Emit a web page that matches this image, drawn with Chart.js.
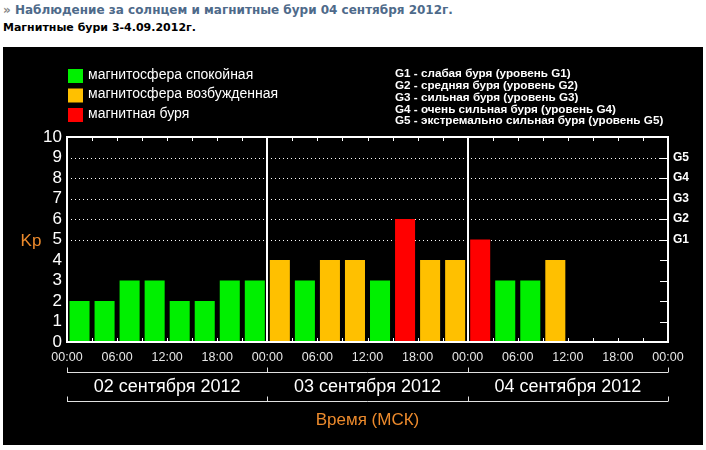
<!DOCTYPE html>
<html>
<head>
<meta charset="utf-8">
<script src="https://cdn.jsdelivr.net/npm/chart.js@4"></script>
<style>
  html, body { margin: 0; padding: 0; background: #fff; width: 706px; height: 450px; overflow: hidden; }
  #h1 { position: absolute; left: 3px; top: 3px; font: bold 12px "DejaVu Sans"; color: #4e6a8a; white-space: nowrap; }
  #h1 span { color: #888; }
  #h2 { position: absolute; left: 3px; top: 21px; font: bold 11px "DejaVu Sans"; color: #000; white-space: nowrap; }
  #wrap { position: absolute; left: 3px; top: 47px; width: 700px; height: 398px; background: #000; }
</style>
</head>
<body>
<div id="h1"><span>»</span> Наблюдение за солнцем и магнитные бури 04 сентября 2012г.</div>
<div id="h2">Магнитные бури 3-4.09.2012г.</div>
<div id="wrap"><canvas id="kp" width="700" height="398"></canvas></div>
<script>
// 3-hour slots, 02.09 00:00 .. 04.09 21:00
const slots = [
  "02 00", "02 03", "02 06", "02 09", "02 12", "02 15", "02 18", "02 21",
  "03 00", "03 03", "03 06", "03 09", "03 12", "03 15", "03 18", "03 21",
  "04 00", "04 03", "04 06", "04 09", "04 12", "04 15", "04 18", "04 21",
];
const kp = [
  2, 2, 3, 3, 2, 2, 3, 3,
  4, 3, 4, 4, 3, 6, 4, 4,
  5, 3, 3, 4, null, null, null, null,
];
const days = ["02 сентября 2012", "03 сентября 2012", "04 сентября 2012"];
const dayMid = [12, 36, 60];
const gLevels = ["G1", "G2", "G3", "G4", "G5"]; // Kp 5..9
const legendText = ["магнитосфера спокойная", "магнитосфера возбужденная", "магнитная буря"];
const legendColors = ["#00f000", "#ffc000", "#ff0000"];
const gNotes = [
  "G1 - слабая буря (уровень G1)",
  "G2 - средняя буря (уровень G2)",
  "G3 - сильная буря (уровень G3)",
  "G4 - очень сильная буря (уровень G4)",
  "G5 - экстремально сильная буря (уровень G5)",
];

const orange = "#ec8a2c";
Chart.defaults.font.family = "Liberation Sans";

function levelColor(v) {
  if (v >= 5) return legendColors[2];
  if (v >= 4) return legendColors[1];
  return legendColors[0];
}

function hh(v) {
  return String(v % 24).padStart(2, "0") + ":00";
}

const framePlugin = {
  id: "frame",
  beforeDraw(chart) {
    const ctx = chart.ctx;
    ctx.save();
    ctx.fillStyle = "#000";
    ctx.fillRect(0, 0, chart.width, chart.height);
    ctx.restore();
  },
  beforeDatasetsDraw(chart) {
    const { ctx, chartArea: a, scales: { y } } = chart;
    ctx.save();
    ctx.strokeStyle = "#fff";
    ctx.lineWidth = 1;
    ctx.setLineDash([1, 3]);
    for (let v = 5; v <= 9; v++) {
      const py = Math.round(y.getPixelForValue(v)) + 0.5;
      ctx.beginPath();
      ctx.moveTo(a.left + 4, py);
      ctx.lineTo(a.right - 8, py);
      ctx.stroke();
    }
    ctx.restore();
  },
  afterDatasetsDraw(chart) {
    const { ctx, chartArea: a, scales: { y, xTime } } = chart;
    ctx.save();
    ctx.strokeStyle = "#fff";
    ctx.lineWidth = 2;
    ctx.strokeRect(a.left, a.top, a.right - a.left, a.bottom - a.top);

    // day separators
    [24, 48].forEach((h) => {
      const px = Math.round(xTime.getPixelForValue(h));
      ctx.beginPath();
      ctx.moveTo(px, a.top);
      ctx.lineTo(px, a.bottom);
      ctx.stroke();
    });

    // small ticks on top / bottom every 3 hours
    ctx.lineWidth = 1;
    for (let h = 3; h < 72; h += 3) {
      const px = Math.round(xTime.getPixelForValue(h)) + 0.5;
      ctx.beginPath();
      ctx.moveTo(px, a.top);
      ctx.lineTo(px, a.top + 4);
      ctx.moveTo(px, a.bottom);
      ctx.lineTo(px, a.bottom - 4);
      ctx.stroke();
    }
    // ticks on the right axis
    for (let v = 1; v <= 9; v++) {
      const py = Math.round(y.getPixelForValue(v)) + 0.5;
      ctx.beginPath();
      ctx.moveTo(a.right - 8, py);
      ctx.lineTo(a.right, py);
      ctx.stroke();
    }

    // date brackets
    ctx.strokeStyle = "#e0e0e0";
    [a.bottom + 30.5, a.bottom + 59.5].forEach((ly) => {
      ctx.beginPath();
      ctx.moveTo(a.left, ly);
      ctx.lineTo(a.right, ly);
      [0, 24, 48, 72].forEach((h) => {
        const px = Math.round(xTime.getPixelForValue(h)) + 0.5;
        ctx.moveTo(px, ly);
        ctx.lineTo(px, ly - 5);
      });
      ctx.stroke();
    });

    // Kp title
    ctx.fillStyle = orange;
    ctx.font = "17px 'Liberation Sans'";
    ctx.textAlign = "center";
    ctx.textBaseline = "middle";
    ctx.fillText("Kp", 28, 194);

    // legend
    ctx.textAlign = "left";
    ctx.font = "14px 'Liberation Sans'";
    legendText.forEach((t, i) => {
      const ty = 22 + i * 19.5;
      ctx.fillStyle = legendColors[i];
      ctx.fillRect(65, ty, 15, 14);
      ctx.fillStyle = "#fff";
      ctx.fillText(t, 85, ty + 6);
    });

    // G-level notes
    ctx.font = "bold 11.7px 'Liberation Sans'";
    gNotes.forEach((t, i) => {
      ctx.fillText(t, 392, 27 + i * 11.8);
    });
    ctx.restore();
  },
};

new Chart(document.getElementById("kp"), {
  type: "bar",
  data: {
    labels: slots,
    datasets: [
      {
        data: kp,
        backgroundColor: kp.map(levelColor),
        categoryPercentage: 0.8,
        barPercentage: 1,
        xAxisID: "x",
        yAxisID: "y",
      },
    ],
  },
  options: {
    responsive: false,
    animation: false,
    events: [],
    layout: { padding: { top: 90, left: 0, right: 0, bottom: 0 } },
    plugins: { legend: { display: false }, tooltip: { enabled: false } },
    scales: {
      x: { type: "category", display: false },
      xTime: {
        type: "linear",
        position: "bottom",
        min: 0,
        max: 72,
        offset: false,
        weight: 0,
        grid: { display: false, drawTicks: false, offset: false },
        border: { display: false },
        ticks: {
          stepSize: 6,
          autoSkip: false,
          maxRotation: 0,
          padding: 8,
          color: "#e6e6e6",
          font: { size: 12.5 },
          callback: (v) => hh(v),
        },
        afterFit: (s) => { s.height = 22; },
      },
      xDay: {
        type: "linear",
        position: "bottom",
        min: 0,
        max: 72,
        offset: false,
        weight: 1,
        grid: { display: false, drawTicks: false, offset: false },
        border: { display: false },
        afterBuildTicks: (s) => { s.ticks = dayMid.map((v) => ({ value: v })); },
        ticks: {
          autoSkip: false,
          maxRotation: 0,
          padding: 12,
          color: "#fff",
          font: { size: 18 },
          callback: (v) => days[Math.floor(v / 24)],
        },
        title: {
          display: true,
          text: "Время (МСК)",
          color: orange,
          font: { size: 17 },
          padding: { top: 0, bottom: 14 },
        },
        afterFit: (s) => { s.height = 81; },
      },
      y: {
        position: "left",
        min: 0,
        max: 10,
        grid: { display: false, drawTicks: false },
        border: { display: false },
        ticks: {
          stepSize: 1,
          autoSkip: false,
          padding: 5,
          color: "#fff",
          font: { size: 17 },
        },
        afterFit: (s) => { s.width = 64; },
      },
      y2: {
        position: "right",
        min: 0,
        max: 10,
        grid: { display: false, drawTicks: false },
        border: { display: false },
        ticks: {
          stepSize: 1,
          autoSkip: false,
          padding: 5,
          color: "#fff",
          font: { size: 12, weight: "bold" },
          callback: (v) => (v >= 5 && v <= 9 ? gLevels[v - 5] : ""),
        },
        afterFit: (s) => { s.width = 35; },
      },
    },
  },
  plugins: [framePlugin],
});
</script>
</body>
</html>
